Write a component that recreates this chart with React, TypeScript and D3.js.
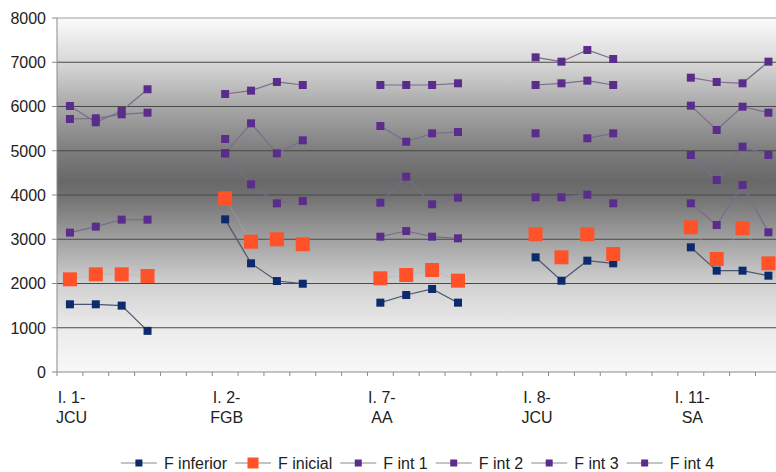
import React, { useEffect, useRef } from "react";
import * as d3 from "d3";

const W = 776;
const H = 472;

const groupLabels = [["I. 1-", "JCU"], ["I. 2-", "FGB"], ["I. 7-", "AA"], ["I. 8-", "JCU"], ["I. 11-", "SA"]];
const slotsPerGroup = 6;
const yTicks = [0, 1000, 2000, 3000, 4000, 5000, 6000, 7000, 8000];

const _ = null;
const fInferior = [1530, 1530, 1500, 930, _, _, 3450, 2456, 2056, 1995, _, _, 1567, 1740, 1876, 1567, _, _, 2592, 2063, 2516, 2456, _, _, 2818, 2290, 2290, 2177, _, _];
const fInicial = [2094, 2207, 2207, 2170, _, _, 3925, 2945, 2999, 2886, _, _, 2117, 2192, 2305, 2064, _, _, 3112, 2592, 3112, 2667, _, _, 3270, 2554, 3247, 2456, _, _];
const fInt1 = [3150, 3285, 3443, 3443, _, _, 4942, 4241, 3812, 3864, _, _, 3058, 3186, 3058, 3021, _, _, 3948, 3948, 4008, 3812, _, _, 3812, 3322, 4226, 3157, _, _];
const fInt2 = [_, _, _, _, _, _, 4942, 5620, 4942, 5235, _, _, 3826, 4414, 3790, 3939, _, _, 5394, _, 5281, 5394, _, _, 4904, 4339, 5092, 4904, _, _];
const fInt3 = [5718, 5733, 5823, 5860, _, _, 5266, _, _, _, _, _, 5559, 5204, 5393, 5424, _, _, 6486, 6524, 6584, 6486, _, _, 6019, 5469, 5996, 5860, _, _];
const fInt4 = [6011, 5643, 5898, 6389, _, _, 6282, 6358, 6554, 6486, _, _, 6486, 6486, 6486, 6524, _, _, 7111, 7013, 7277, 7073, _, _, 6651, 6554, 6524, 7013, _, _];

const seriesNames = ["F inferior", "F inicial", "F int 1", "F int 2", "F int 3", "F int 4"];
const seriesValues = [fInferior, fInicial, fInt1, fInt2, fInt3, fInt4];
const seriesColors = ["#0c2a6c", "#ff5228", "#5a2d8c", "#5a2d8c", "#5a2d8c", "#5a2d8c"];
const lineColors = ["#4c5670", "rgba(190,170,170,0.35)", "#7a6c8c", "#7a6c8c", "#7a6c8c", "#7a6c8c"];
const markerSizes = [8, 14, 8, 8, 8, 8];
const legendMarkerSizes = [7, 11, 7, 7, 7, 7];

const FONT = "'Liberation Sans', Arial, sans-serif";
const FS = 16;

export default function App() {
  const ref = useRef<SVGSVGElement | null>(null);

  useEffect(() => {
    const svg = d3.select(ref.current);
    svg.selectAll("*").remove();

    const nSlots = groupLabels.length * slotsPerGroup;
    const plotLeft = 57;
    const band = 25.87;
    const plotTop = 18;
    const plotBottom = 372;
    const plotRight = plotLeft + band * nSlots;

    const x = d3.scaleBand<number>().domain(d3.range(nSlots)).range([plotLeft, plotRight]).padding(0);
    const y = d3.scaleLinear().domain([0, 8000]).range([plotBottom, plotTop]);
    const cx = (i: number) => (x(i) as number) + x.bandwidth() / 2;

    svg.append("rect").attr("width", W).attr("height", H).attr("fill", "#ffffff");

    const defs = svg.append("defs");
    const grad = defs.append("linearGradient").attr("id", "bg").attr("x1", 0).attr("y1", 0).attr("x2", 0).attr("y2", 1);
    const stops: [number, string][] = [
      [0, "#fbfbfb"], [0.124, "#d8d8d8"], [0.249, "#a8a8a8"], [0.373, "#7e7e7e"],
      [0.46, "#686868"], [0.5, "#707070"], [0.624, "#a0a0a0"], [0.749, "#d0d0d0"],
      [0.876, "#ebebeb"], [1, "#f8f8f8"],
    ];
    stops.forEach(([o, c]) => grad.append("stop").attr("offset", o).attr("stop-color", c));

    svg.append("rect")
      .attr("x", plotLeft).attr("y", plotTop)
      .attr("width", plotRight - plotLeft).attr("height", plotBottom - plotTop)
      .attr("fill", "url(#bg)");

    // gridlines
    yTicks.forEach((t) => {
      if (t === 0) return;
      svg.append("line")
        .attr("x1", plotLeft).attr("x2", plotRight)
        .attr("y1", y(t)).attr("y2", y(t))
        .attr("stroke", t === 8000 ? "#a0a0a0" : "#4a4a4a")
        .attr("stroke-width", 1.2);
    });

    // axes
    svg.append("line").attr("x1", plotLeft).attr("x2", plotLeft).attr("y1", plotTop).attr("y2", plotBottom)
      .attr("stroke", "#8a8a8a").attr("stroke-width", 1);
    svg.append("line").attr("x1", plotLeft).attr("x2", plotRight).attr("y1", plotBottom).attr("y2", plotBottom)
      .attr("stroke", "#8a8a8a").attr("stroke-width", 1.2);

    yTicks.forEach((t) => {
      svg.append("line").attr("x1", plotLeft - 5).attr("x2", plotLeft).attr("y1", y(t)).attr("y2", y(t))
        .attr("stroke", "#8a8a8a");
      svg.append("text")
        .attr("x", 46).attr("y", y(t)).attr("dy", "0.36em")
        .attr("text-anchor", "end")
        .attr("font-family", FONT).attr("font-size", FS).attr("fill", "#222")
        .text(String(t));
    });

    for (let i = 0; i <= nSlots; i++) {
      const xx = plotLeft + band * i;
      svg.append("line").attr("x1", xx).attr("x2", xx).attr("y1", plotBottom).attr("y2", plotBottom + 4)
        .attr("stroke", "#8a8a8a");
    }

    groupLabels.forEach((lbl, g) => {
      const xc = cx(g * slotsPerGroup) + 1.5;
      lbl.forEach((line, k) => {
        svg.append("text")
          .attr("x", xc).attr("y", 403 + k * 20)
          .attr("text-anchor", "middle")
          .attr("font-family", FONT).attr("font-size", FS).attr("fill", "#222")
          .text(line);
      });
    });

    // series
    const lineGen = d3.line<number | null>()
      .defined((d) => d != null)
      .x((_d, i) => cx(i))
      .y((d) => y(d as number));

    seriesValues.forEach((vals, s) => {
      svg.append("path")
        .attr("d", lineGen(vals) || "")
        .attr("fill", "none")
        .attr("stroke", lineColors[s])
        .attr("stroke-width", 1.2);
    });
    seriesValues.forEach((vals, s) => {
      const sz = markerSizes[s];
      vals.forEach((v, i) => {
        if (v == null) return;
        svg.append("rect")
          .attr("x", cx(i) - sz / 2).attr("y", y(v) - sz / 2)
          .attr("width", sz).attr("height", sz)
          .attr("fill", seriesColors[s]);
      });
    });

    // legend
    const legY = 463;
    const lg = svg.append("g");
    let x0 = 0;
    seriesNames.forEach((name, s) => {
      const g = lg.append("g");
      g.append("line").attr("x1", x0).attr("x2", x0 + 36).attr("y1", legY).attr("y2", legY)
        .attr("stroke", "#8a8a8a").attr("stroke-width", 1.2);
      const ms = legendMarkerSizes[s];
      g.append("rect").attr("x", x0 + 18 - ms / 2).attr("y", legY - ms / 2).attr("width", ms).attr("height", ms)
        .attr("fill", seriesColors[s]);
      const t = g.append("text").attr("x", x0 + 43).attr("y", legY).attr("dy", "0.36em")
        .attr("font-family", FONT).attr("font-size", FS).attr("fill", "#222").text(name);
      const w = (t.node() as SVGTextElement).getComputedTextLength();
      x0 = x0 + 43 + w + 8;
    });
    const totalW = x0 - 8;
    const legCenter = 417.5;
    lg.attr("transform", `translate(${legCenter - totalW / 2},0)`);
  }, []);

  return (
    <div style={{ position: "fixed", left: 0, top: 0, width: W, height: H, overflow: "hidden" }}>
      <svg ref={ref} width={W} height={H} style={{ display: "block" }} />
    </div>
  );
}
